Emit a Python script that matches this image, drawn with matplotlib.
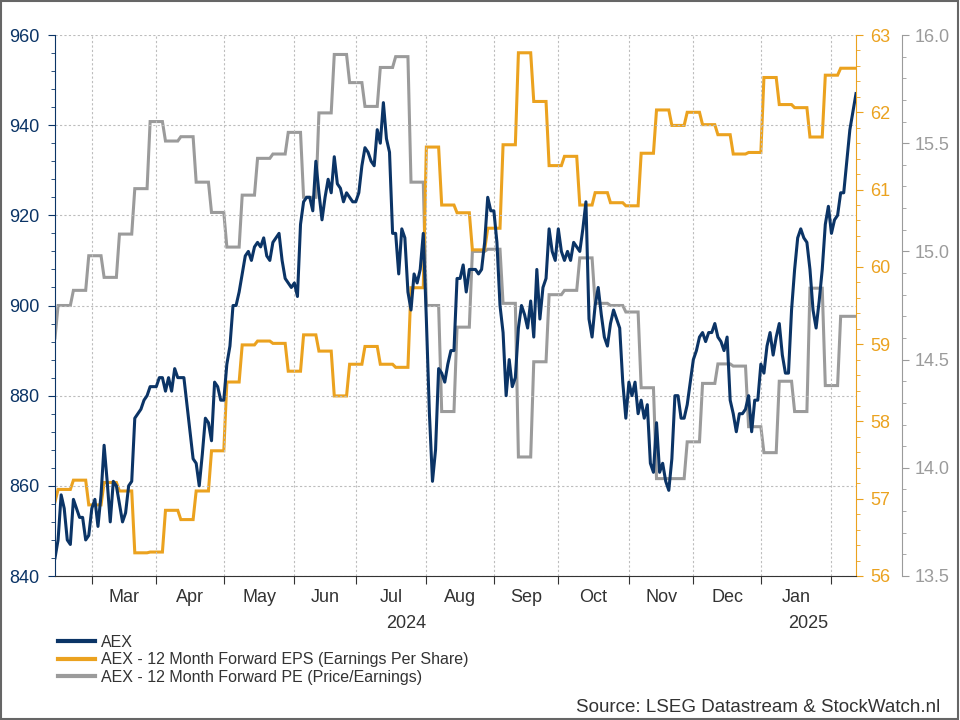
import numpy as np
import pandas as pd
import matplotlib
matplotlib.use("Agg")
import matplotlib.pyplot as plt
from matplotlib.ticker import MultipleLocator, FormatStrFormatter
from matplotlib.patches import Rectangle
from matplotlib.lines import Line2D
import matplotlib.transforms as mtransforms

plt.rcParams['font.family'] = ['Liberation Sans', 'DejaVu Sans']

# trading days (weekdays) shown on the chart
dates = pd.bdate_range('2024-02-14', '2025-02-13')

# AEX close, one value per weekday
aex = [
    844, 848, 858, 855, 848, 847, 857, 855, 853, 853,
    848, 849, 855, 857, 851, 858, 869, 861, 852, 861,
    860, 856, 852, 854, 860, 861, 875, 876, 877, 879,
    880, 882, 882, 882, 884, 884, 881, 884, 881, 886,
    884, 884, 884, 878, 872, 866, 865, 860, 867, 875,
    874, 870, 883, 882, 879, 879, 887, 891, 900, 900,
    903, 907, 911, 912, 910, 913, 914, 913, 915, 911,
    910, 914, 915, 916, 910, 906, 905, 904, 905, 902,
    918, 923, 924, 924, 921, 932, 925, 919, 924, 928,
    925, 933, 927, 926, 923, 925, 924, 923, 923, 925,
    931, 935, 934, 932, 931, 939, 936, 945, 937, 934,
    916, 916, 907, 917, 915, 903, 899, 907, 905, 908,
    916, 897, 876, 861, 868, 886, 885, 883, 887, 890,
    890, 906, 906, 909, 903, 908, 908, 908, 907, 908,
    914, 924, 921, 921, 914, 900, 894, 880, 888, 882,
    884, 895, 900, 898, 895, 901, 893, 908, 897, 904,
    906, 917, 912, 910, 917, 912, 910, 912, 910, 914,
    913, 912, 917, 923, 897, 893, 900, 904, 898, 893,
    891, 896, 899, 897, 895, 883, 875, 883, 880, 883,
    876, 879, 875, 878, 865, 863, 874, 863, 865, 861,
    859, 866, 880, 880, 875, 875, 878, 883, 888, 890,
    893, 894, 892, 894, 894, 896, 893, 892, 890, 893,
    879, 876, 872, 876, 876, 877, 880, 872, 879, 879,
    887, 885, 891, 894, 889, 893, 896, 889, 885, 885,
    899, 908, 915, 917, 915, 914, 908, 899, 895, 901,
    908, 918, 922, 916, 919, 920, 925, 925, 932, 939,
    943, 947,
]

# weekly estimates (updated on Thursdays); first value is for the first day
eps_weekly = [
    56.96, 57.12, 57.24, 56.92, 57.21, 57.10, 56.30, 56.31, 56.85, 56.73,
    57.10, 57.62, 58.51, 58.99, 59.04, 59.01, 58.65, 59.12, 58.91, 58.33,
    58.74, 58.97, 58.74, 58.70, 59.73, 61.55, 60.80, 60.70, 60.22, 60.50,
    61.58, 62.77, 62.14, 61.31, 61.43, 60.80, 60.96, 60.83, 60.79, 61.47,
    62.03, 61.83, 62.00, 61.84, 61.71, 61.46, 61.48, 62.45, 62.10, 62.06,
    61.68, 62.48, 62.57, 62.57,
]
pe_weekly = [
    14.60, 14.75, 14.82, 14.98, 14.88, 15.08, 15.29, 15.60, 15.51, 15.53,
    15.32, 15.18, 15.02, 15.26, 15.43, 15.45, 15.55, 15.25, 15.64, 15.91,
    15.78, 15.67, 15.85, 15.90, 15.32, 14.75, 14.26, 14.65, 15.00, 15.01,
    14.76, 14.05, 14.49, 14.80, 14.82, 14.97, 14.76, 14.75, 14.72, 14.37,
    13.95, 13.95, 14.12, 14.39, 14.48, 14.47, 14.19, 14.07, 14.40, 14.26,
    14.83, 14.38, 14.70, 14.70,
]

labels = ['AEX',
          'AEX - 12 Month Forward EPS (Earnings Per Share)',
          'AEX - 12 Month Forward PE (Price/Earnings)']

navy = '#0b3466'
orange = '#eba21f'
grey = '#9b9b9b'
dark = '#333333'

n = len(dates)
x = np.arange(n)
# each weekday carries the value of its week
week = np.where(x == 0, 0, (x - 1) // 5 + 1)
eps = np.array(eps_weekly)[week]
pe = np.array(pe_weekly)[week]

fig = plt.figure(figsize=(9.6, 7.2), dpi=100)
ax = fig.add_axes([55/960, 1 - 576/720, 801/960, 541/720])
ax2 = ax.twinx()
ax3 = ax.twinx()
ax3.spines['right'].set_position(('outward', 46 * 72 / 100))

ax3.set_zorder(1)
ax2.set_zorder(2)
ax.set_zorder(3)
ax.patch.set_visible(False)

ax3.plot(x, pe, color=grey, lw=2.2, solid_joinstyle='miter')
ax2.plot(x, eps, color=orange, lw=2.2, solid_joinstyle='miter')
ax.plot(x, aex, color=navy, lw=2.2)

ax.set_xlim(0, n - 1)
ax.set_ylim(840, 960)
ax2.set_ylim(56, 63)
ax3.set_ylim(13.5, 16.0)

# left axis
ax.yaxis.set_major_locator(MultipleLocator(20))
ax.yaxis.set_minor_locator(MultipleLocator(4))
ax.tick_params(axis='y', which='major', colors=navy, labelsize=13, length=5, pad=6)
ax.tick_params(axis='y', which='minor', colors=navy, length=3)
ax.spines['left'].set_color(navy)
ax.spines['top'].set_visible(False)
ax.spines['right'].set_visible(False)
ax.spines['bottom'].set_color(dark)

# EPS axis
ax2.yaxis.set_major_locator(MultipleLocator(1))
ax2.yaxis.set_minor_locator(MultipleLocator(0.2))
ax2.tick_params(axis='y', which='major', colors=orange, labelsize=13, length=5, pad=5)
ax2.tick_params(axis='y', which='minor', colors=orange, length=3)
for s in ['left', 'top', 'bottom']:
    ax2.spines[s].set_visible(False)
ax2.spines['right'].set_color(orange)

# PE axis
ax3.yaxis.set_major_locator(MultipleLocator(0.5))
ax3.yaxis.set_minor_locator(MultipleLocator(0.1))
ax3.yaxis.set_major_formatter(FormatStrFormatter('%.1f'))
ax3.tick_params(axis='y', which='major', colors=grey, labelsize=13, length=5, pad=4)
ax3.tick_params(axis='y', which='minor', colors=grey, length=3)
for s in ['left', 'top', 'bottom']:
    ax3.spines[s].set_visible(False)
ax3.spines['right'].set_color(grey)

# month ticks on weekday index
starts = [i for i in range(1, n) if dates[i].month != dates[i - 1].month]
mids = [(a + b) / 2 for a, b in zip(starts[:-1], starts[1:])]
names = [dates[a].strftime('%b') for a in starts[:-1]]
ax.set_xticks(starts)
ax.set_xticklabels([])
ax.set_xticks(mids, minor=True)
ax.set_xticklabels(names, minor=True)
ax.tick_params(axis='x', which='major', length=6, color=dark)
ax.tick_params(axis='x', which='minor', length=0, pad=9, labelsize=13, labelcolor=dark)

ax.grid(True, which='major', linestyle=(0, (2, 2)), color='#bdbdbd', linewidth=0.8)

# year labels centred on each year's span
trans = mtransforms.blended_transform_factory(ax.transData, ax.transAxes)
for yr in sorted(set(dates.year)):
    idx = np.where(dates.year == yr)[0]
    ax.text((idx[0] + idx[-1]) / 2, -0.087, str(yr), transform=trans,
            ha='center', va='center', fontsize=13, color=dark)

handles = [Line2D([], [], color=navy, lw=3),
           Line2D([], [], color=orange, lw=3),
           Line2D([], [], color=grey, lw=3)]
fig.legend(handles, labels, loc='upper left', bbox_to_anchor=(58/960, 1 - 635/720),
           frameon=False, fontsize=11.5, handlelength=2.3, handletextpad=0.4,
           labelspacing=0.15, borderaxespad=0, borderpad=0, labelcolor=dark)

fig.text(940/960, 1 - 707/720, 'Source: LSEG Datastream & StockWatch.nl',
         ha='right', va='center', fontsize=13.5, color=dark)

fig.add_artist(Rectangle((0.001, 0.002), 0.997, 0.996, transform=fig.transFigure,
                         fill=False, edgecolor='#666666', lw=1.5))

fig.savefig('out.png', dpi=100)
